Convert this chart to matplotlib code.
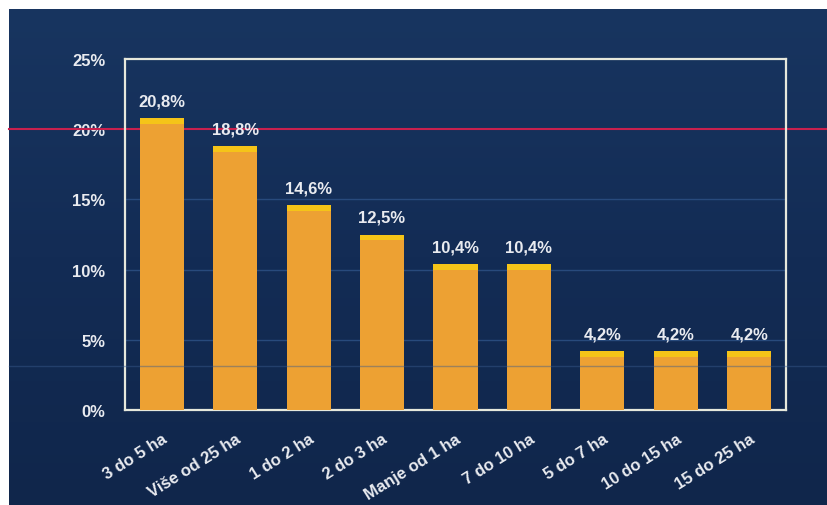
import numpy as np
import matplotlib
matplotlib.use("Agg")
from matplotlib import pyplot as plt
from matplotlib import transforms
from matplotlib.colors import LinearSegmentedColormap

# data
categories = ["3 do 5 ha", "Više od 25 ha", "1 do 2 ha", "2 do 3 ha", "Manje od 1 ha",
              "7 do 10 ha", "5 do 7 ha", "10 do 15 ha", "15 do 25 ha"]
shares = [20.8, 18.8, 14.6, 12.5, 10.4, 10.4, 4.2, 4.2, 4.2]
value_labels = ["20,8%", "18,8%", "14,6%", "12,5%", "10,4%", "10,4%", "4,2%", "4,2%", "4,2%"]
y_ticks = [0, 5, 10, 15, 20, 25]
y_tick_labels = ["0%", "5%", "10%", "15%", "20%", "25%"]

plt.rcParams['font.family'] = ['Liberation Sans', 'DejaVu Sans']
txt_col = "#E9EBF0"

fig = plt.figure(figsize=(8.28, 5.06), dpi=100)
fig.patch.set_facecolor("white")

# navy slide background, slightly lighter at the top
bg = fig.add_axes([9 / 828, 0, 1 - 9 / 828, 1 - 10 / 506], zorder=-5)
grad = np.linspace(0, 1, 256).reshape(-1, 1)
navy = LinearSegmentedColormap.from_list("navy", ["#183560", "#132C55", "#10264B"])
bg.imshow(grad, aspect="auto", cmap=navy, extent=[0, 1, 0, 1], origin="upper")
bg.set_axis_off()

ax = fig.add_axes([125 / 828, 1 - 411 / 506, 661 / 828, 351 / 506])
ax.set_facecolor("none")

x = np.arange(len(categories))
ax.bar(x, shares, width=0.6, color="#EDA133", zorder=3)
# yellow bevel on top of each bar
cap = 0.4
ax.bar(x, [cap] * len(shares), bottom=[s - cap for s in shares], width=0.6,
       color="#F5C418", zorder=4)

for xi, s, lab in zip(x, shares, value_labels):
    ax.annotate(lab, (xi, s), xytext=(0, 7), textcoords="offset points",
                ha="center", va="bottom", color=txt_col, fontsize=12, fontweight="bold")

ax.set_xlim(-0.5, len(categories) - 0.5)
ax.set_ylim(0, 25)
ax.set_yticks(y_ticks)
ax.set_yticklabels(y_tick_labels)
ax.set_xticks(x)
ax.set_xticklabels(categories, rotation=32, ha="right", rotation_mode="anchor")
ax.tick_params(axis="y", length=0, pad=14, labelcolor=txt_col, labelsize=12)
ax.tick_params(axis="x", length=0, pad=15, labelcolor=txt_col, labelsize=12)
for t in ax.get_xticklabels() + ax.get_yticklabels():
    t.set_fontweight("bold")

for sp in ax.spines.values():
    sp.set_color("#E6E8DC")
    sp.set_linewidth(1.6)

# faint gridlines inside plot
for v in [5, 10, 15]:
    ax.axhline(v, color="#284A7C", lw=1, zorder=1)

# red reference line at 20% across the whole slide
trans = transforms.blended_transform_factory(fig.transFigure, ax.transData)
ax.plot([9 / 828, 1], [20, 20], transform=trans, color="#C8204E", lw=1.5,
        clip_on=False, zorder=2)
# faint scan line across slide
ax.plot([9 / 828, 1], [3.15, 3.15], transform=trans, color="#3A5C8E", lw=1,
        alpha=0.45, clip_on=False, zorder=5)

fig.savefig("out.png", dpi=100)
